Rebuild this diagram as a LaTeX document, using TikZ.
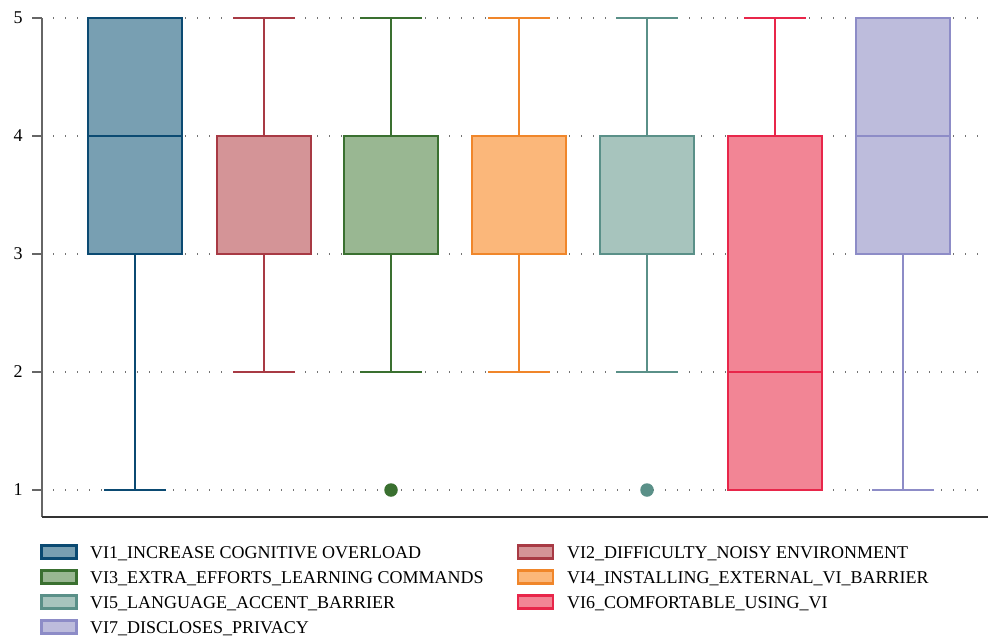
\documentclass[tikz,border=0pt]{standalone}
\usepackage{fontspec}
\setmainfont{Liberation Serif}
\definecolor{eA}{HTML}{0B4A72}\definecolor{fA}{HTML}{789FB2}
\definecolor{eB}{HTML}{A83A44}\definecolor{fB}{HTML}{D49497}
\definecolor{eC}{HTML}{3A7030}\definecolor{fC}{HTML}{99B792}
\definecolor{eD}{HTML}{F0862A}\definecolor{fD}{HTML}{FBB77A}
\definecolor{eE}{HTML}{5A9088}\definecolor{fE}{HTML}{A7C4BD}
\definecolor{eF}{HTML}{E8264A}\definecolor{fF}{HTML}{F28595}
\definecolor{eG}{HTML}{8D8CC7}\definecolor{fG}{HTML}{BDBCDC}
% value -> vertical pixel position (1 at 490, 5 at 18)
\newcommand\vy[1]{\fpeval{490-(#1-1)*118}}
% \drawbox{centre}{lo}{q1}{median}{q3}{hi}{edge}{fill}
\newcommand\drawbox[8]{%
  \draw[bxline,#7] (#1,\vy{#6}) -- (#1,\vy{#5});
  \draw[bxline,#7] (#1,\vy{#3}) -- (#1,\vy{#2});
  \draw[bxline,#7] (#1-31,\vy{#6}) -- (#1+31,\vy{#6});
  \draw[bxline,#7] (#1-31,\vy{#2}) -- (#1+31,\vy{#2});
  \draw[bxline,#7,fill=#8] (#1-47,\vy{#5}) rectangle (#1+47,\vy{#3});
  \draw[bxline,#7] (#1-47,\vy{#4}) -- (#1+47,\vy{#4});
}
\tikzset{
  grid/.style={draw=black!55,line width=1.2pt,dash pattern=on 1.2pt off 10.8pt},
  axisc/.style={draw=black!60,line width=1.3pt},
  ticklab/.style={font=\fontsize{18}{18}\selectfont,text=black},
  bxline/.style={line width=2.8pt},
  swatch/.style={line width=2.8pt,minimum width=35pt,minimum height=13pt,inner sep=0pt},
  legtext/.style={anchor=base west,inner sep=0pt,font=\fontsize{18}{18}\selectfont,text=black},
  outlier/.style={circle,inner sep=0pt,minimum size=13.5pt}
}
\begin{document}
\begin{tikzpicture}[x=1pt,y=-1pt]
\useasboundingbox (0,0) rectangle (988,637);
% dotted grid lines, ticks and tick labels
\foreach \v in {1,...,5} {
  \draw[grid] (53,\vy{\v}) -- (988,\vy{\v});
  \draw[axisc] (32,\vy{\v}) -- (42,\vy{\v});
  \node[ticklab] (t\v) at (18,\vy{\v}) {\v};
}
\draw[axisc] (42,18) -- (42,517);
\draw[draw=black!80,line width=1.3pt] (42,517) -- (988,517);
% box plots
\drawbox{135}{1}{3}{4}{5}{5}{eA}{fA}
\drawbox{264}{2}{3}{4}{4}{5}{eB}{fB}
\drawbox{391}{2}{3}{4}{4}{5}{eC}{fC}
\drawbox{519}{2}{3}{4}{4}{5}{eD}{fD}
\drawbox{647}{2}{3}{4}{4}{5}{eE}{fE}
\drawbox{775}{1}{1}{2}{4}{5}{eF}{fF}
\drawbox{903}{1}{3}{4}{5}{5}{eG}{fG}
% outliers
\node[outlier,fill=eC] (o3) at (391,490) {};
\node[outlier,fill=eE] (o5) at (647,490) {};
% legend
\node[swatch,draw=eA,fill=fA] (s1) at (59,552) {};
\node[legtext] (l1) at (90,558) {VI1\_INCREASE COGNITIVE OVERLOAD};
\node[swatch,draw=eC,fill=fC] (s3) at (59,577) {};
\node[legtext] (l3) at (90,583) {VI3\_EXTRA\_EFFORTS\_LEARNING COMMANDS};
\node[swatch,draw=eE,fill=fE] (s5) at (59,602) {};
\node[legtext] (l5) at (90,608) {VI5\_LANGUAGE\_ACCENT\_BARRIER};
\node[swatch,draw=eG,fill=fG] (s7) at (59,627) {};
\node[legtext] (l7) at (90,633) {VI7\_DISCLOSES\_PRIVACY};
\node[swatch,draw=eB,fill=fB] (s2) at (535.5,552) {};
\node[legtext] (l2) at (567,558) {VI2\_DIFFICULTY\_NOISY ENVIRONMENT};
\node[swatch,draw=eD,fill=fD] (s4) at (535.5,577) {};
\node[legtext] (l4) at (567,583) {VI4\_INSTALLING\_EXTERNAL\_VI\_BARRIER};
\node[swatch,draw=eF,fill=fF] (s6) at (535.5,602) {};
\node[legtext] (l6) at (567,608) {VI6\_COMFORTABLE\_USING\_VI};
\end{tikzpicture}
\end{document}
